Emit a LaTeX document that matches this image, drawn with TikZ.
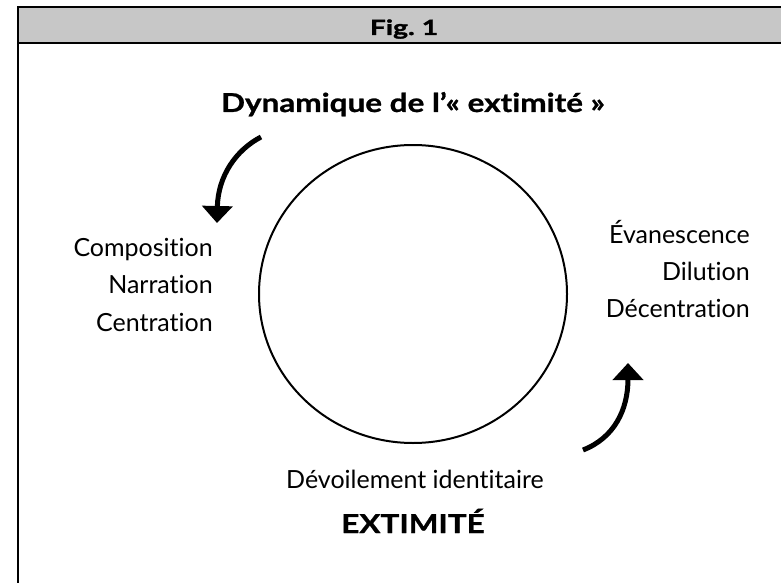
\documentclass[tikz,border=0pt]{standalone}
\usepackage{fontspec}
\setmainfont{Lato}[Ligatures=NoCommon]
\newfontfamily\heavyfont{Lato}[FakeStretch=1.21, FakeBold=1, Ligatures=NoCommon]
\newfontfamily\figfont{Lato}[FakeStretch=1.35, FakeBold=1.5, Ligatures=NoCommon]
\usetikzlibrary{arrows.meta,shapes.geometric}
\tikzset{
  lbl/.style={inner sep=0pt, font=\fontsize{25}{30}\selectfont},
  ttl/.style={inner sep=0pt, font=\heavyfont\fontsize{26}{30}\selectfont\bfseries},
  bigarrow/.style={line width=5pt, -{Triangle[width=30pt,length=17pt]}},
  frame/.style={line width=1.6pt, black}
}
\begin{document}
\begin{tikzpicture}[x=1pt,y=-1pt]
\useasboundingbox (0,0) rectangle (781,583);
% header band
\fill[black!22] (18,7) rectangle (781,43);
\draw[frame] (781,7) -- (18,7) -- (18,583);
\draw[line width=2pt] (18,43) -- (781,43);
\node[inner sep=0pt, anchor=base, font=\figfont\fontsize{21}{24}\selectfont\bfseries] (fig) at (404,35) {Fig.~1};
% title
\node[ttl, anchor=base] (title) at (413,112) {Dynamique de l’« extimité »};
% circle
\node[draw, line width=2pt, ellipse, minimum width=308pt, minimum height=298pt, inner sep=0pt] (circ) at (413,294) {};
% left labels
\node[lbl, anchor=base east] (l1) at (213,256) {Composition};
\node[lbl, anchor=base east] (l2) at (213,293) {Narration};
\node[lbl, anchor=base east] (l3) at (213,331) {Centration};
% right labels
\node[lbl, anchor=base east] (r1) at (750,243) {Évanescence};
\node[lbl, anchor=base east] (r2) at (750,280) {Dilution};
\node[lbl, anchor=base east] (r3) at (750,317) {Décentration};
% bottom labels
\node[lbl, anchor=base] (b1) at (415,488) {Dévoilement identitaire};
\node[ttl, anchor=base] (b2) at (413,533) {EXTIMITÉ};
% arrows
\coordinate (a1s) at (261,137);
\coordinate (a1e) at (217,223);
\coordinate (a2s) at (583,450);
\coordinate (a2e) at (628,363);
\draw[bigarrow] (a1s) .. controls (236,150) and (218,176) .. (a1e);
\draw[bigarrow] (a2s) .. controls (614,438) and (628,410) .. (a2e);
\end{tikzpicture}
\end{document}
